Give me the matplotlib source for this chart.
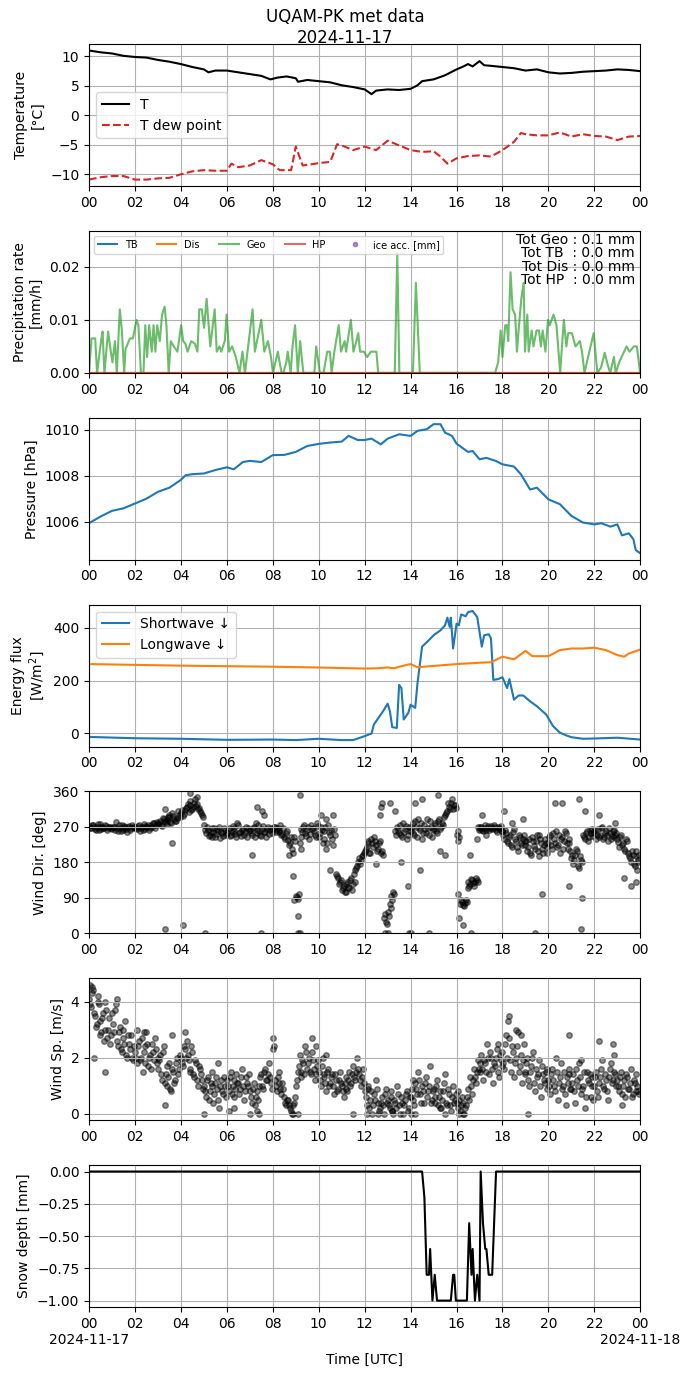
import numpy as np
import matplotlib
matplotlib.use("Agg")
import matplotlib.pyplot as plt
import matplotlib.dates as mdates

# --- temperature [hours, degC]
t_hours = [0, 0.5, 1, 1.5, 2, 2.5, 3, 3.5, 4, 4.5, 5, 5.2, 5.5, 6, 6.5, 7, 7.5, 7.9, 8.2, 8.6,
           9.0, 9.1, 9.5, 10, 10.5, 11, 11.5, 12, 12.3, 12.5, 13, 13.5, 14, 14.3, 14.5, 15,
           15.5, 16, 16.3, 16.5, 16.7, 17, 17.2, 17.5, 18, 18.5, 19, 19.5, 20, 20.5, 21, 21.5,
           22, 22.5, 23, 23.5, 24]
temp = [11.0, 10.7, 10.5, 10.1, 9.9, 9.8, 9.4, 9.1, 8.7, 8.2, 7.8, 7.3, 7.6, 7.6, 7.3, 7.0, 6.7,
        6.1, 6.4, 6.6, 6.3, 5.7, 6.0, 5.8, 5.6, 5.1, 4.8, 4.4, 3.6, 4.2, 4.4, 4.3, 4.5, 5.1, 5.8,
        6.1, 6.8, 7.8, 8.3, 8.7, 8.3, 9.2, 8.5, 8.4, 8.2, 8.0, 7.6, 7.8, 7.3, 7.1, 7.2, 7.4, 7.5,
        7.6, 7.8, 7.7, 7.5]

td_hours = [0, 0.5, 1, 1.5, 2, 2.5, 3, 3.5, 4, 4.5, 5, 5.5, 6, 6.2, 6.5, 7, 7.5, 8, 8.3, 8.8,
            9.0, 9.3, 9.7, 10, 10.5, 10.8, 11, 11.5, 12, 12.5, 13, 13.5, 14, 14.5, 15, 15.3,
            15.6, 16, 16.5, 17, 17.5, 18, 18.5, 18.8, 19, 19.5, 20, 20.5, 21, 21.5, 22, 22.5,
            23, 23.5, 24]
dewpoint = [-10.9, -10.5, -10.3, -10.3, -10.9, -10.9, -10.7, -10.6, -10.0, -9.5, -9.3, -9.4,
            -9.4, -8.2, -8.8, -8.5, -7.6, -8.3, -9.3, -9.3, -5.3, -8.5, -8.3, -8.1, -7.9, -4.9,
            -5.1, -5.9, -5.3, -5.9, -4.3, -5.1, -5.9, -6.2, -6.1, -7.0, -8.2, -7.3, -6.9, -6.8,
            -7.0, -5.9, -4.5, -3.0, -3.2, -3.4, -3.4, -2.9, -3.6, -3.2, -3.5, -3.6, -4.2, -3.6,
            -3.5]

# --- precipitation rate, Geo gauge [hours, mm/h]
geo_hours = [0.00, 0.11, 0.27, 0.35, 0.54, 0.59, 0.67, 0.83, 0.95, 1.02, 1.13, 1.21, 1.34, 1.43,
             1.53, 1.59, 1.78, 1.91, 2.07, 2.15, 2.26, 2.37, 2.45, 2.53, 2.62, 2.73, 2.81, 2.89,
             2.97, 3.08, 3.18, 3.29, 3.37, 3.47, 3.56, 3.69, 3.85, 4.01, 4.10, 4.20, 4.29, 4.45,
             4.61, 4.72, 4.80, 4.91, 5.01, 5.12, 5.28, 5.47, 5.56, 5.68, 5.76, 5.91, 5.99, 6.10,
             6.23, 6.39, 6.55, 6.68, 6.79, 6.90, 7.12, 7.22, 7.50, 7.63, 7.79, 7.92, 8.01, 8.22,
             8.38, 8.46, 8.59, 8.65, 8.78, 8.86, 8.97, 9.09, 9.19, 9.33, 9.81, 9.89, 10.05, 10.21,
             10.37, 10.49, 10.56, 10.68, 10.87, 10.97, 11.13, 11.19, 11.40, 11.51, 11.64, 11.72,
             11.80, 11.96, 12.11, 12.27, 12.51, 12.59, 13.31, 13.42, 13.51, 14.10, 14.23, 14.40,
             17.68, 17.81, 17.92, 18.00, 18.12, 18.19, 18.25, 18.35, 18.44, 18.55, 18.63, 18.70,
             18.82, 18.92, 18.98, 19.08, 19.14, 19.27, 19.35, 19.48, 19.59, 19.67, 19.75, 19.87,
             19.98, 20.06, 20.22, 20.35, 20.51, 20.67, 20.78, 20.86, 21.02, 21.18, 21.37, 21.46,
             21.57, 21.78, 21.97, 22.13, 22.29, 22.45, 22.58, 22.69, 22.85, 22.93, 23.08, 23.40,
             23.53, 23.72, 23.85, 23.99]
geo_rate = [0, 0.0065, 0.0065, 0, 0.0065, 0.0078, 0, 0.0078, 0.004, 0.002, 0.006, 0, 0.012, 0.008,
            0, 0.0045, 0.0065, 0.0065, 0.010, 0.009, 0, 0, 0.009, 0.003, 0.009, 0.004, 0.009, 0.004,
            0.009, 0.006, 0.011, 0.0125, 0.009, 0, 0.006, 0.005, 0.004, 0.009, 0.006, 0.0055, 0.004,
            0.006, 0.0055, 0.004, 0.012, 0.012, 0.0085, 0.014, 0.005, 0.012, 0.004, 0.005, 0.004,
            0.006, 0.011, 0.004, 0.005, 0.003, 0, 0.004, 0, 0.004, 0.012, 0.004, 0.010, 0.004, 0.006,
            0.003, 0, 0.004, 0, 0, 0.002, 0.004, 0, 0.005, 0.009, 0, 0.006, 0, 0, 0.005, 0, 0, 0.004,
            0.004, 0, 0.004, 0.009, 0.004, 0.006, 0.004, 0.010, 0.004, 0.006, 0.0075, 0.004, 0.004,
            0.003, 0.004, 0.004, 0, 0, 0.0225, 0, 0, 0.017, 0, 0, 0.002, 0.008, 0.003, 0.009, 0.009,
            0.006, 0.019, 0.012, 0.011, 0.004, 0.008, 0.014, 0.017, 0.004, 0.011, 0.004, 0.008, 0.005,
            0.008, 0.008, 0.005, 0.008, 0.004, 0.010, 0.009, 0.011, 0.009, 0, 0.010, 0.005, 0.0075,
            0.0075, 0.005, 0.006, 0.004, 0, 0.004, 0.0075, 0, 0.001, 0.0038, 0.0015, 0, 0.003, 0,
            0.002, 0.005, 0.004, 0.005, 0.005, 0]
tot_geo, tot_tb, tot_dis, tot_hp = 0.1, 0.0, 0.0, 0.0

# --- pressure [hours, hPa]
p_hours = [0, 0.5, 1, 1.5, 2, 2.5, 3, 3.5, 4, 4.2, 4.5, 5, 5.5, 6, 6.3, 6.7, 7, 7.5, 8, 8.5, 9,
           9.5, 10, 10.5, 11, 11.3, 11.7, 12, 12.3, 12.7, 13, 13.5, 14, 14.3, 14.7, 15, 15.3, 15.5,
           15.8, 16, 16.5, 16.7, 17, 17.3, 17.7, 18, 18.5, 18.8, 19.2, 19.5, 20, 20.5, 21, 21.5, 22,
           22.3, 22.7, 23, 23.2, 23.5, 23.7, 23.8, 24]
pressure = [1005.93, 1006.22, 1006.47, 1006.58, 1006.79, 1007.0, 1007.3, 1007.48, 1007.82,
            1008.02, 1008.07, 1008.1, 1008.25, 1008.37, 1008.28, 1008.6, 1008.65, 1008.6, 1008.9,
            1008.91, 1009.04, 1009.3, 1009.39, 1009.45, 1009.49, 1009.74, 1009.56, 1009.56,
            1009.62, 1009.37, 1009.62, 1009.81, 1009.74, 1009.96, 1010.03, 1010.25, 1010.25,
            1009.88, 1009.74, 1009.4, 1009.04, 1009.08, 1008.72, 1008.78, 1008.65, 1008.5, 1008.4,
            1008.07, 1007.4, 1007.48, 1006.97, 1006.76, 1006.25, 1005.96, 1005.88, 1005.93,
            1005.78, 1005.88, 1005.4, 1005.49, 1005.23, 1004.76, 1004.62]

# --- radiation [hours, W/m2]
lw_hours = [0, 2, 4, 6, 8, 10, 11, 12, 12.5, 13, 13.3, 13.5, 14, 14.3, 15, 16, 17, 17.5, 18, 18.5,
            19, 19.3, 20, 20.5, 21, 21.5, 22, 22.5, 23, 23.3, 23.5, 24]
longwave = [263, 260, 257, 255, 253, 250, 248, 246, 247, 250, 247, 253, 263, 251, 256, 263, 268,
            270, 291, 281, 313, 293, 293, 316, 322, 322, 325, 316, 297, 291, 303, 318]
sw_hours = [0, 2, 4, 6, 8, 9, 10, 11, 11.5, 12, 12.3, 12.4, 12.6, 12.8, 13.0, 13.1, 13.2, 13.4,
            13.5, 13.6, 13.7, 13.9, 14.0, 14.2, 14.3, 14.5, 14.8, 15.0, 15.3, 15.5, 15.6, 15.7,
            15.75, 15.85, 16.0, 16.1, 16.2, 16.4, 16.5, 16.7, 16.9, 17.1, 17.2, 17.4, 17.5, 17.6,
            17.8, 18.0, 18.2, 18.3, 18.5, 18.7, 18.9, 19.2, 19.5, 19.9, 20.2, 20.5, 20.8, 21, 21.5,
            22, 23, 24]
shortwave = [-13, -18, -20, -24, -23, -25, -20, -25, -25, -10, 0, 34, 59, 84, 113, 84, 24, 21, 184,
             172, 53, 78, 109, 97, 191, 329, 354, 372, 391, 410, 439, 404, 439, 322, 416, 410, 451,
             444, 460, 464, 441, 329, 372, 376, 360, 203, 206, 213, 172, 206, 128, 144, 144, 122, 103,
             72, 28, 3, -8, -14, -20, -19, -16, -23]

# --- wind direction [deg]: two 5-min sample sets (12 per hour), the second offset by 2.5 min
wind_dir = [
    [272, 268, 275, 265, 270, 262, 278, 270, 266, 273, 268, 271],
    [265, 270, 282, 260, 268, 274, 263, 270, 258, 272, 266, 269],
    [270, 264, 275, 268, 262, 273, 270, 276, 266, 271, 279, 274],
    [278, 285, 272, 290, 282, 288, 295, 280, 298, 286, 292, 300],
    [305, 298, 312, 320, 308, 325, 315, 330, 322, 316, 310, 300],
    [275, 255, 262, 250, 268, 258, 245, 264, 270, 256, 248, 262],
    [255, 268, 250, 272, 260, 245, 275, 258, 262, 250, 270, 266],
    [262, 250, 270, 280, 255, 260, 248, 272, 258, 265, 252, 268],
    [265, 270, 262, 258, 275, 252, 245, 255, 238, 230, 215, 245],
    [95, 88, 230, 265, 270, 255, 262, 240, 275, 268, 250, 280],
    [245, 270, 230, 260, 215, 275, 250, 240, 265, 150, 140, 130],
    [110, 120, 105, 130, 115, 140, 125, 160, 170, 190, 185, 200],
    [210, 220, 235, 205, 230, 245, 225, 215, 235, 210, 40, 30],
    [55, 75, 95, 105, 260, 270, 255, 250, 280, 265, 240, 270],
    [260, 280, 250, 270, 290, 262, 240, 275, 255, 268, 285, 245],
    [265, 280, 255, 290, 270, 275, 300, 310, 320, 330, 315, 325],
    [250, 235, 75, 80, 70, 85, 130, 125, 135, 120, 140, 270],
    [265, 270, 260, 275, 268, 262, 272, 266, 270, 258, 265, 272],
    [260, 240, 255, 230, 250, 220, 265, 235, 210, 245, 225, 250],
    [225, 210, 240, 200, 235, 215, 250, 195, 230, 205, 240, 220],
    [230, 250, 215, 240, 260, 225, 205, 245, 235, 255, 215, 230],
    [190, 175, 200, 210, 165, 185, 250, 240, 260, 245, 255, 265],
    [255, 240, 265, 250, 270, 245, 260, 235, 255, 248, 262, 250],
    [240, 220, 250, 230, 210, 235, 195, 180, 200, 170, 210, 185],
]
wind_dir_b = [
    [266, 274, 269, 263, 277, 271, 264, 268, 275, 262, 270, 267],
    [271, 262, 268, 276, 259, 266, 272, 264, 270, 261, 274, 268],
    [267, 272, 260, 270, 278, 265, 269, 262, 274, 280, 268, 283],
    [281, 275, 293, 285, 278, 296, 283, 305, 290, 284, 310, 295],
    [312, 303, 318, 327, 335, 312, 320, 340, 328, 318, 306, 295],
    [262, 270, 248, 258, 244, 266, 252, 260, 241, 255, 268, 250],
    [262, 246, 258, 266, 252, 280, 255, 248, 264, 258, 244, 260],
    [255, 266, 245, 262, 275, 250, 265, 258, 245, 270, 262, 255],
    [270, 258, 266, 262, 250, 268, 240, 260, 225, 245, 205, 235],
    [92, 100, 245, 258, 275, 248, 270, 252, 265, 260, 245, 272],
    [255, 262, 240, 270, 228, 258, 262, 225, 250, 145, 125, 135],
    [115, 105, 125, 118, 135, 110, 150, 165, 180, 175, 195, 205],
    [215, 228, 205, 240, 220, 235, 210, 228, 205, 200, 50, 25],
    [45, 65, 85, 100, 250, 262, 275, 245, 258, 272, 250, 260],
    [270, 255, 285, 245, 268, 280, 255, 265, 290, 250, 270, 262],
    [275, 260, 285, 265, 280, 295, 305, 330, 315, 340, 325, 318],
    [260, 245, 85, 72, 78, 80, 120, 138, 128, 130, 135, 262],
    [270, 263, 268, 262, 273, 268, 265, 275, 262, 270, 268, 260],
    [250, 262, 235, 245, 225, 258, 240, 218, 250, 230, 240, 235],
    [235, 220, 205, 245, 222, 235, 210, 240, 215, 225, 230, 205],
    [245, 225, 255, 230, 220, 250, 240, 215, 260, 228, 240, 210],
    [200, 185, 215, 170, 195, 180, 245, 255, 235, 262, 248, 258],
    [262, 250, 245, 268, 240, 255, 250, 268, 240, 260, 245, 255],
    [232, 245, 225, 215, 240, 205, 190, 210, 175, 195, 160, 200],
]
wd_extra_hours = [3.3, 4.1, 3.6, 3.3, 3.5, 4.4, 4.7, 5.05, 7.1, 7.3, 7.55, 7.6, 7.5, 8.7, 8.9, 8.93,
                  9.1, 9.1, 9.2, 9.2, 9.25, 10.1, 10.3, 10.6, 10.5, 11.6, 12.5, 12.7, 12.75, 12.65,
                  12.9, 13.0, 13.1, 13.3, 13.6, 13.9, 13.95, 14.0, 14.2, 14.4, 14.5, 14.8, 15.2,
                  15.3, 15.5, 16.05, 16.1, 16.3, 16.5, 16.6, 16.65, 16.9, 16.95, 17.1, 17.3, 18.05,
                  18.4, 18.9, 19.4, 19.7, 19.6, 20.3, 20.6, 20.9, 21.35, 21.4, 21.45, 21.6, 22.2,
                  22.9, 23.3, 23.6, 23.8, 23.9]
wd_extra = [10, 20, 230, 315, 300, 355, 345, 0, 200, 320, 310, 300, 0, 200, 145, 85, 45, 0, 0, 350,
            215, 300, 290, 300, 160, 130, 175, 320, 330, 300, 0, 0, 330, 310, 180, 120, 0, 0, 330,
            160, 340, 0, 350, 210, 200, 100, 40, 20, 115, 200, 0, 240, 130, 300, 250, 310, 280, 290,
            0, 100, 250, 330, 330, 120, 340, 10, 90, 310, 300, 280, 140, 120, 130, 180]

# --- wind speed [m/s], same sampling as direction
wind_speed = [
    [4.1, 3.8, 4.4, 3.5, 3.2, 3.9, 2.8, 3.4, 2.6, 3.7, 3.0, 2.5],
    [3.6, 2.9, 3.9, 2.4, 3.1, 2.2, 2.7, 3.3, 2.0, 2.5, 2.8, 1.9],
    [2.2, 1.8, 2.6, 2.0, 1.5, 2.4, 2.9, 1.7, 2.1, 2.5, 1.9, 2.3],
    [1.6, 2.1, 1.2, 2.4, 1.4, 1.0, 1.8, 0.8, 1.5, 1.2, 2.0, 1.6],
    [2.0, 1.7, 2.3, 2.6, 1.9, 1.5, 2.2, 1.3, 1.8, 1.0, 1.6, 1.2],
    [1.0, 0.6, 1.3, 0.8, 1.5, 0.4, 1.1, 0.9, 0.2, 1.2, 0.7, 1.0],
    [1.2, 0.8, 1.5, 1.0, 0.6, 1.4, 1.1, 0.9, 1.6, 0.5, 1.3, 1.0],
    [0.8, 0.4, 1.1, 0.6, 0.1, 1.0, 1.4, 0.9, 1.6, 1.2, 1.8, 1.1],
    [2.7, 1.2, 0.8, 1.5, 0.9, 1.1, 0.6, 0.3, 0.5, 0.2, 0.0, 0.4],
    [1.0, 1.5, 2.1, 1.3, 1.8, 2.4, 1.6, 2.0, 1.4, 1.9, 1.2, 1.7],
    [1.5, 1.0, 2.0, 1.3, 0.8, 1.6, 1.1, 1.4, 0.7, 1.2, 0.9, 1.5],
    [1.0, 0.6, 1.3, 0.8, 1.5, 1.1, 1.7, 1.2, 2.0, 1.4, 1.0, 1.6],
    [0.8, 0.3, 1.0, 0.5, 0.0, 0.7, 1.2, 0.4, 0.2, 0.6, 0.0, 0.9],
    [0.5, 0.2, 0.8, 0.0, 0.4, 1.0, 0.3, 0.6, 0.0, 0.5, 0.8, 0.2],
    [0.6, 1.2, 0.3, 0.9, 1.5, 0.7, 1.0, 0.4, 1.3, 0.8, 1.7, 0.5],
    [0.9, 0.4, 1.2, 0.6, 0.2, 0.8, 1.4, 0.3, 0.7, 0.1, 1.0, 0.5],
    [0.4, 0.8, 0.1, 0.6, 0.0, 0.3, 0.9, 1.3, 0.7, 1.6, 1.1, 1.9],
    [1.5, 2.1, 1.2, 1.8, 2.5, 1.4, 2.0, 1.1, 1.7, 2.3, 1.3, 1.9],
    [2.2, 1.6, 2.8, 3.3, 1.9, 2.4, 1.3, 2.0, 2.9, 1.7, 1.1, 2.5],
    [1.5, 2.0, 1.0, 1.7, 2.2, 0.8, 1.3, 1.9, 0.6, 1.4, 1.1, 1.6],
    [1.2, 0.7, 1.6, 1.0, 2.0, 0.5, 1.3, 0.9, 1.5, 0.3, 1.1, 1.4],
    [0.9, 1.4, 0.4, 1.2, 1.8, 0.7, 1.0, 0.2, 1.5, 1.1, 0.6, 1.3],
    [1.0, 1.5, 0.6, 1.3, 1.9, 0.9, 1.2, 0.5, 1.6, 1.1, 2.1, 1.4],
    [1.2, 0.8, 1.5, 1.0, 0.6, 1.3, 0.9, 1.6, 0.7, 1.1, 1.4, 0.8],
]
wind_speed_b = [
    [3.9, 4.3, 3.6, 3.1, 4.0, 3.3, 2.9, 3.6, 3.0, 2.7, 3.4, 2.8],
    [3.2, 3.7, 2.6, 2.9, 2.3, 3.0, 2.5, 2.1, 2.8, 2.3, 2.0, 2.4],
    [2.0, 2.4, 1.9, 2.7, 2.2, 1.8, 2.5, 2.0, 1.6, 2.2, 2.7, 1.8],
    [1.9, 1.4, 2.2, 1.1, 1.7, 1.3, 0.9, 1.6, 1.1, 1.8, 1.4, 2.1],
    [1.8, 2.4, 2.0, 2.1, 1.6, 2.4, 1.4, 1.9, 1.2, 1.7, 1.4, 0.9],
    [0.8, 1.2, 0.5, 1.1, 1.0, 0.7, 1.3, 0.5, 1.0, 0.8, 1.3, 0.6],
    [1.0, 1.3, 0.7, 1.2, 0.9, 1.1, 0.7, 1.3, 1.0, 0.8, 1.1, 1.4],
    [0.6, 0.9, 0.3, 0.8, 0.5, 1.3, 1.0, 1.5, 1.2, 1.4, 1.3, 0.9],
    [2.4, 1.0, 1.3, 1.1, 0.7, 0.9, 0.4, 0.5, 0.3, 0.1, 0.3, 0.6],
    [1.2, 1.7, 1.5, 1.9, 1.4, 2.2, 1.8, 1.5, 2.2, 1.6, 1.4, 1.9],
    [1.2, 1.7, 1.4, 1.1, 1.5, 1.0, 1.3, 1.0, 1.4, 0.8, 1.2, 1.1],
    [0.8, 1.1, 0.9, 1.2, 1.0, 1.4, 1.3, 1.5, 1.6, 1.2, 1.3, 1.1],
    [0.6, 0.9, 0.2, 0.8, 0.3, 0.5, 0.9, 0.1, 0.4, 0.3, 0.7, 0.4],
    [0.3, 0.6, 0.1, 0.5, 0.2, 0.7, 0.0, 0.4, 0.3, 0.7, 0.1, 0.6],
    [0.9, 0.5, 1.1, 0.7, 1.2, 0.4, 0.8, 1.1, 0.6, 1.0, 0.4, 0.8],
    [0.6, 1.0, 0.3, 0.8, 0.5, 1.1, 0.4, 0.9, 0.3, 0.6, 0.4, 0.7],
    [0.2, 0.5, 0.3, 0.4, 0.2, 0.6, 0.5, 1.0, 1.2, 1.3, 1.5, 1.6],
    [1.8, 1.6, 1.9, 1.5, 2.0, 2.2, 1.6, 1.8, 2.0, 1.5, 2.1, 1.7],
    [1.8, 2.5, 2.0, 2.7, 1.5, 2.2, 1.8, 2.4, 1.5, 2.1, 1.9, 1.4],
    [1.8, 1.2, 1.5, 2.0, 1.1, 1.6, 1.4, 1.0, 1.7, 1.2, 1.5, 0.9],
    [1.0, 1.4, 1.2, 0.8, 1.5, 1.1, 1.8, 1.0, 0.7, 1.3, 1.6, 0.9],
    [1.1, 0.8, 1.6, 1.0, 1.3, 0.9, 1.5, 0.6, 1.2, 1.4, 1.0, 0.5],
    [1.3, 0.8, 1.1, 1.6, 1.0, 1.4, 0.8, 1.3, 1.8, 1.2, 1.5, 1.0],
    [1.0, 1.3, 0.7, 1.2, 1.4, 0.9, 1.1, 0.6, 1.2, 0.8, 1.0, 0.7],
]
ws_extra_hours = [0.05, 0.15, 0.4, 0.7, 1.2, 0.2, 0.7, 2.1, 2.4, 3.0, 3.3, 3.6, 4.2, 5.0, 5.6, 6.1,
                  6.3, 7.0, 7.4, 8.0, 8.9, 9.1, 9.7, 9.9, 10.3, 11.5, 12.1, 12.6, 13.2, 14.0, 14.2,
                  15.3, 15.5, 16.1, 16.3, 17.8, 18.3, 18.6, 18.8, 19.1, 20.9, 21.4, 22.2, 22.8, 23.2]
ws_extra = [4.6, 4.5, 4.2, 4.0, 4.1, 2.0, 1.5, 3.0, 2.9, 2.0, 0.3, 2.8, 2.9, 0.0, 1.8, 0.1, 0.2, 0.0,
            0.0, 2.3, 0.0, 0.0, 2.7, 2.4, 2.1, 0.0, 0.0, 0.0, 0.1, 0.0, 0.0, 0.2, 0.0, 0.0, 0.0, 2.5,
            3.5, 3.0, 2.8, 0.0, 2.8, 1.9, 2.6, 2.5, 0.3]

# --- snow depth [hours, mm]
snow_hours = [0, 14.5, 14.6, 14.7, 14.8, 14.85, 14.95, 15.05, 15.15, 15.75, 15.85, 15.9, 15.97,
              16.45, 16.55, 16.65, 16.7, 16.8, 16.9, 17.0, 17.05, 17.15, 17.25, 17.3, 17.4, 17.55,
              17.72, 24]
snow_depth = [0, 0, -0.2, -0.8, -0.8, -0.6, -1.0, -0.8, -1.0, -1.0, -0.8, -0.8, -1.0, -1.0, -0.4,
              -0.8, -0.6, -1.0, -0.8, -1.0, 0.0, -0.4, -0.6, -0.6, -0.8, -0.8, 0.0, 0.0]

day = np.datetime64('2024-11-17T00:00:00')


def to_time(hours):
    return day + (np.asarray(hours) * 3600).round().astype('timedelta64[s]')


wind_t = day + np.arange(24 * 12) * np.timedelta64(300, 's')
wind_t_b = wind_t + np.timedelta64(150, 's')

fig, axes = plt.subplots(7, 1, figsize=(6.9, 13.77))
fig.subplots_adjust(left=0.129, right=0.928, top=0.968, bottom=0.0508, hspace=0.316)
fig.suptitle("UQAM-PK met data\n2024-11-17", fontsize=12, y=0.994)

ax = axes[0]
ax.plot(to_time(t_hours), temp, color='k', label='T')
ax.plot(to_time(td_hours), dewpoint, '--', color='tab:red', label='T dew point')
ax.set_ylabel("Temperature\n[°C]")
ax.legend(loc='center left')

ax = axes[1]
zero_t = to_time([0, 24])
ax.plot(zero_t, [0, 0], color='tab:blue', label='TB')
ax.plot(zero_t, [0, 0], color='tab:orange', label='Dis')
ax.plot(to_time(geo_hours), geo_rate, color='tab:green', alpha=0.7, label='Geo')
ax.plot(zero_t, [0, 0], color='tab:red', alpha=0.7, label='HP')
ax.plot([], [], 'o', color='tab:purple', alpha=0.8, ms=3, label='ice acc. [mm]')
ax.set_ylim(0, 0.0268)
ax.set_ylabel("Precipitation rate\n[mm/h]")
ax.legend(loc='upper left', ncol=5, fontsize=7)
ax.text(0.99, 0.985,
        f"Tot Geo : {tot_geo:.1f} mm\nTot TB  : {tot_tb:.1f} mm\n"
        f"Tot Dis : {tot_dis:.1f} mm\nTot HP  : {tot_hp:.1f} mm",
        transform=ax.transAxes, ha='right', va='top', fontsize=10, linespacing=0.95)

ax = axes[2]
ax.plot(to_time(p_hours), pressure, color='tab:blue')
ax.set_ylabel("Pressure [hPa]")

ax = axes[3]
ax.plot(to_time(sw_hours), shortwave, color='tab:blue', label='Shortwave ↓')
ax.plot(to_time(lw_hours), longwave, color='tab:orange', label='Longwave ↓')
ax.set_ylabel("Energy flux\n[W/m$^2$]")
ax.legend(loc='upper left')

dots = dict(s=16, color='k', alpha=0.45)

ax = axes[4]
ax.scatter(wind_t, np.ravel(wind_dir), **dots)
ax.scatter(wind_t_b, np.ravel(wind_dir_b), **dots)
ax.scatter(to_time(wd_extra_hours), wd_extra, **dots)
ax.set_ylim(0, 360)
ax.set_yticks([0, 90, 180, 270, 360])
ax.set_ylabel("Wind Dir. [deg]")

ax = axes[5]
ax.scatter(wind_t, np.ravel(wind_speed), **dots)
ax.scatter(wind_t_b, np.ravel(wind_speed_b), **dots)
ax.scatter(to_time(ws_extra_hours), ws_extra, **dots)
ax.set_ylabel("Wind Sp. [m/s]")

ax = axes[6]
ax.plot(to_time(snow_hours), snow_depth, color='k')
ax.set_ylabel("Snow depth [mm]")
ax.set_xlabel("Time [UTC]")

start, end = to_time([0, 24])
for ax in axes:
    ax.set_xlim(start, end)
    ax.xaxis.set_major_locator(mdates.HourLocator(byhour=range(0, 24, 2)))
    ax.xaxis.set_major_formatter(mdates.DateFormatter('%H'))
    ax.grid(True)


def last_fmt(x, pos=None):
    d = mdates.num2date(x)
    if d.hour == 0:
        return d.strftime('%H\n%Y-%m-%d')
    return d.strftime('%H')


axes[6].xaxis.set_major_formatter(plt.FuncFormatter(last_fmt))

fig.savefig("out.png", dpi=100)
